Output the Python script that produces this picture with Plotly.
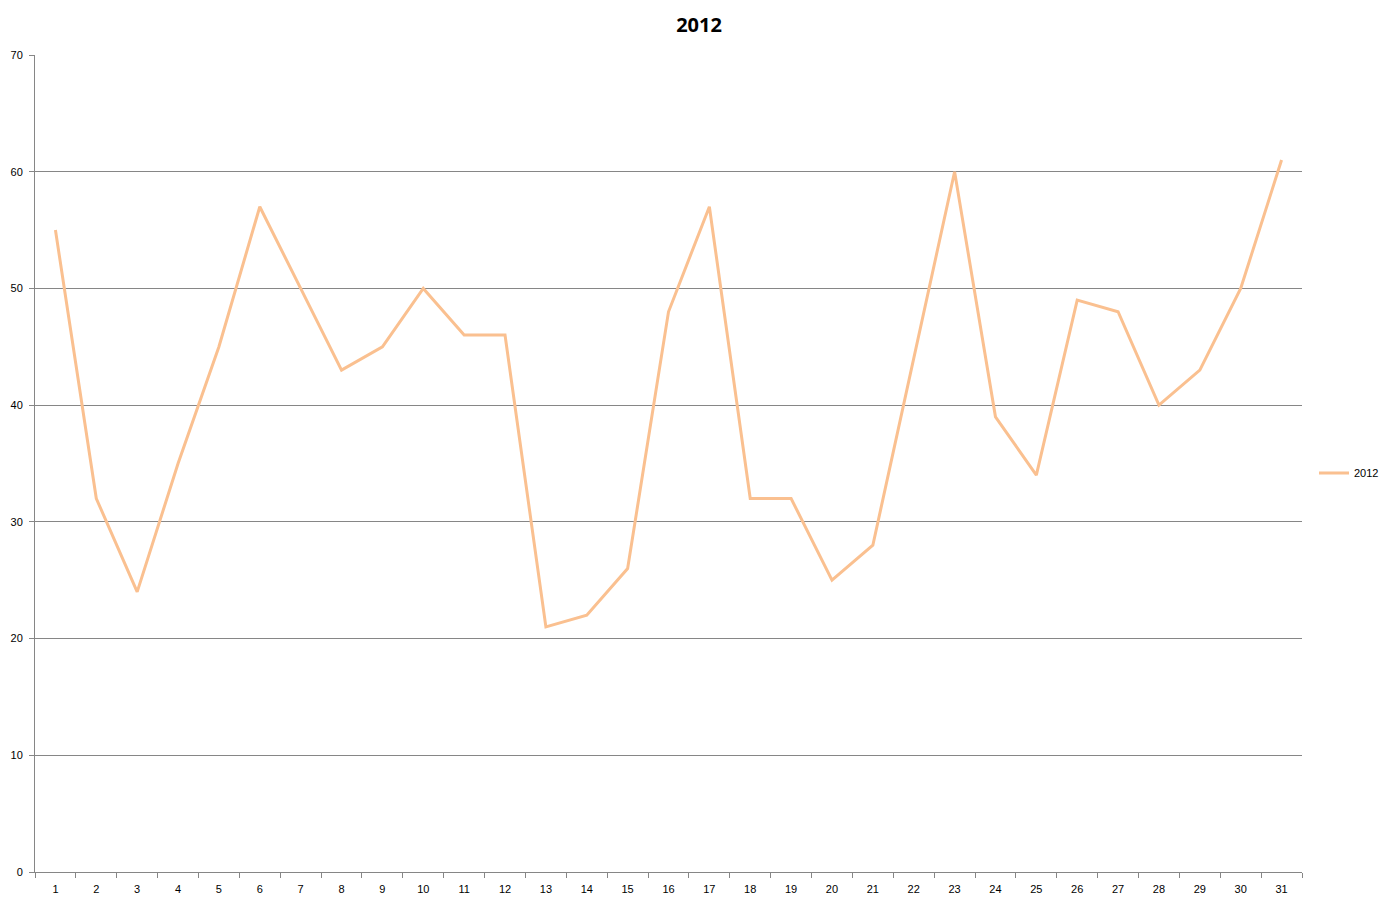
import plotly.graph_objects as go

days = [str(i) for i in range(1, 32)]
values_2012 = [55, 32, 24, 35, 45, 57, 50, 43, 45, 50, 46, 46, 21, 22, 26, 48, 57,
               32, 32, 25, 28, 44, 60, 39, 34, 49, 48, 40, 43, 50, 61]
y_ticks = [0, 10, 20, 30, 40, 50, 60, 70]

# page body has an 8px margin, so the figure sits at (8, 8)
W, H = 1382, 897
ml, mr, mt, mb = 27, 88, 47, 33
pw, ph = W - ml - mr, H - mt - mb

fig = go.Figure()
fig.add_trace(go.Scatter(
    x=days, y=values_2012, mode="lines", name="2012",
    line=dict(color="#FAC090", width=3),
))

grid = "#868686"
fig.update_layout(
    width=W, height=H,
    margin=dict(l=ml, r=mr, t=mt, b=mb, autoexpand=False),
    paper_bgcolor="white", plot_bgcolor="white",
    font=dict(family="Liberation Sans, Arial, sans-serif", size=11, color="#000000"),
    title=dict(text="<b>2012</b>", x=0.5,
               xanchor="center", y=1 - 17 / H, yanchor="middle",
               font=dict(size=20, family="Open Sans, Liberation Sans, sans-serif")),
    showlegend=True,
    legend=dict(x=1 + 12 / pw, xanchor="left", y=(H - mb - 465) / ph, yanchor="middle",
                font=dict(size=11), bgcolor="rgba(0,0,0,0)"),
    xaxis=dict(type="category", tickson="boundaries", ticks="outside", ticklen=5,
               tickcolor=grid, showline=True, linecolor=grid, linewidth=1,
               showgrid=False, range=[-0.5, 30.5], automargin=False,
               ticklabelstandoff=7),
    yaxis=dict(range=[0, 70], tickvals=y_ticks, ticks="outside", ticklen=5,
               tickcolor=grid, showline=True, linecolor=grid, linewidth=1,
               showgrid=True, gridcolor=grid, gridwidth=1, zeroline=False,
               automargin=False, ticklabelstandoff=4),
)

fig.write_html("out.html")
